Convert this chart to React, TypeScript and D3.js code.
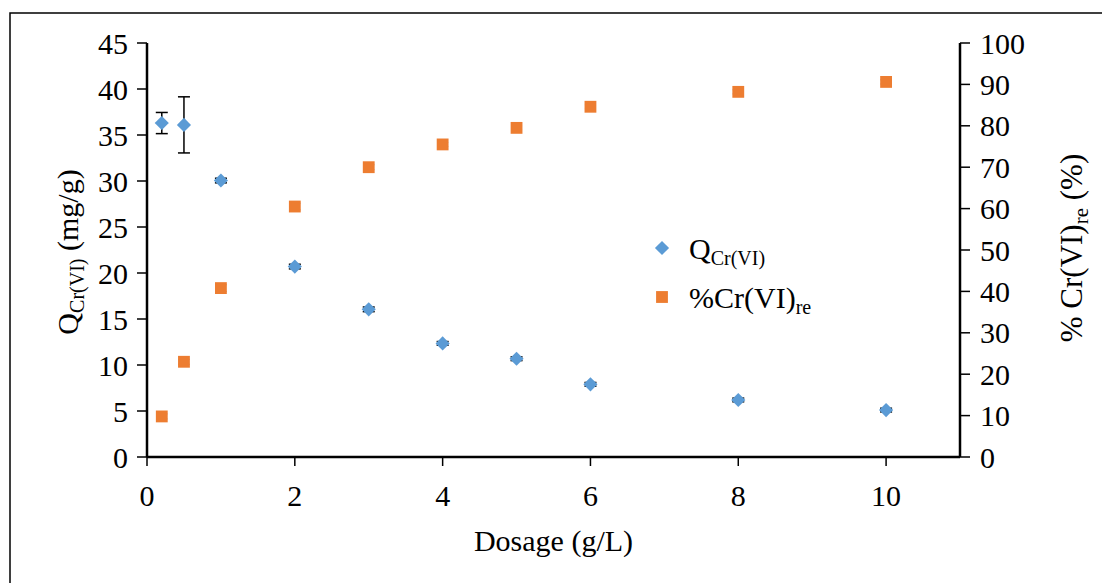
import { useMemo } from "react";
import * as d3 from "d3";

// dosage (g/L)
const dosage = [0.2, 0.5, 1, 2, 3, 4, 5, 6, 8, 10];
// adsorption capacity Q (mg/g)
const qValues = [36.3, 36.1, 30.05, 20.7, 16.05, 12.35, 10.68, 7.9, 6.2, 5.1];
const qErrors = [1.15, 3.05, 0.25, 0.25, 0.25, 0.2, 0.2, 0.2, 0.2, 0.2];
// removal (%)
const removal = [9.8, 23.0, 40.8, 60.5, 70.0, 75.5, 79.5, 84.6, 88.2, 90.6];
const removalErrors = [0.6, 0.6, 0.8, 0.8, 0.6, 0.5, 0.5, 0.5, 0.5, 0.5];

const xTicks = [0, 2, 4, 6, 8, 10];
const yLeftTicks = [0, 5, 10, 15, 20, 25, 30, 35, 40, 45];
const yRightTicks = [0, 10, 20, 30, 40, 50, 60, 70, 80, 90, 100];

const BLUE = "#5B9BD5";
const ORANGE = "#ED7D31";
const FONT = "'Liberation Serif', 'Times New Roman', serif";

export default function App() {
  const width = 1102;
  const height = 583;
  const m = { left: 147, right: 960, top: 43, bottom: 457 };

  const x = useMemo(() => d3.scaleLinear().domain([0, 11]).range([m.left, m.right]), []);
  const yL = useMemo(() => d3.scaleLinear().domain([0, 45]).range([m.bottom, m.top]), []);
  const yR = useMemo(() => d3.scaleLinear().domain([0, 100]).range([m.bottom, m.top]), []);

  const diamond = d3.symbol().type(d3.symbolSquare).size(100)();
  const square = d3.symbol().type(d3.symbolSquare).size(140)();

  return (
    <svg
      width={width}
      height={height}
      style={{ position: "absolute", left: 0, top: 0, background: "#fff" }}
      fontFamily={FONT}
    >
      <rect x={10} y={13} width={1200} height={700} fill="#fff" stroke="#000" strokeWidth={1.5} />

      {/* error bars */}
      {dosage.map((d, i) => (
        <g key={"eq" + i} stroke="#000" strokeWidth={1.5}>
          <line x1={x(d)} x2={x(d)} y1={yL(qValues[i] - qErrors[i])} y2={yL(qValues[i] + qErrors[i])} />
          <line x1={x(d) - 6} x2={x(d) + 6} y1={yL(qValues[i] - qErrors[i])} y2={yL(qValues[i] - qErrors[i])} />
          <line x1={x(d) - 6} x2={x(d) + 6} y1={yL(qValues[i] + qErrors[i])} y2={yL(qValues[i] + qErrors[i])} />
        </g>
      ))}
      {dosage.map((d, i) => (
        <g key={"er" + i} stroke="#555" strokeWidth={1}>
          <line x1={x(d) - 5.5} x2={x(d) + 5.5} y1={yR(removal[i] - removalErrors[i])} y2={yR(removal[i] - removalErrors[i])} />
          <line x1={x(d) - 5.5} x2={x(d) + 5.5} y1={yR(removal[i] + removalErrors[i])} y2={yR(removal[i] + removalErrors[i])} />
        </g>
      ))}

      {/* markers */}
      {dosage.map((d, i) => (
        <path key={"q" + i} d={diamond!} transform={`translate(${x(d)},${yL(qValues[i])}) rotate(45)`} fill={BLUE} />
      ))}
      {dosage.map((d, i) => (
        <path key={"r" + i} d={square!} transform={`translate(${x(d)},${yR(removal[i])})`} fill={ORANGE} />
      ))}

      {/* axes */}
      <g stroke="#000">
        <line x1={m.left} x2={m.right} y1={m.bottom} y2={m.bottom} strokeWidth={2.5} />
        <line x1={m.left} x2={m.left} y1={m.top} y2={m.bottom} strokeWidth={2.5} />
        <line x1={m.right} x2={m.right} y1={m.top} y2={m.bottom} strokeWidth={2.5} />
        {yLeftTicks.map((t) => (
          <line key={"lt" + t} x1={m.left - 10} x2={m.left} y1={yL(t)} y2={yL(t)} strokeWidth={1.5} />
        ))}
        {yRightTicks.map((t) => (
          <line key={"rt" + t} x1={m.right} x2={m.right + 10} y1={yR(t)} y2={yR(t)} strokeWidth={1.5} />
        ))}
        {xTicks.map((t) => (
          <line key={"xt" + t} x1={x(t)} x2={x(t)} y1={m.bottom} y2={m.bottom + 9} strokeWidth={1.5} />
        ))}
      </g>

      <g fontSize={30} fill="#000">
        {yLeftTicks.map((t) => (
          <text key={"ll" + t} x={m.left - 19} y={yL(t)} dy="0.35em" textAnchor="end">
            {t}
          </text>
        ))}
        {yRightTicks.map((t) => (
          <text key={"rl" + t} x={m.right + 20} y={yR(t)} dy="0.35em" textAnchor="start">
            {t}
          </text>
        ))}
        {xTicks.map((t) => (
          <text key={"xl" + t} x={x(t)} y={m.bottom + 49} textAnchor="middle">
            {t}
          </text>
        ))}
        <text x={(m.left + m.right) / 2} y={551} textAnchor="middle">
          Dosage (g/L)
        </text>
        <text transform={`translate(78,252) rotate(-90)`} textAnchor="middle">
          Q<tspan fontSize={20} dy={6}>Cr(VI)</tspan>
          <tspan dy={-6}> (mg/g)</tspan>
        </text>
        <text transform={`translate(1082,248) rotate(-90)`} textAnchor="middle" fontSize={31}>
          %  Cr(VI)<tspan fontSize={21} dy={6}>re</tspan>
          <tspan dy={-6}>  (%)</tspan>
        </text>
      </g>

      {/* legend */}
      <path d={diamond!} transform="translate(662,248) rotate(45)" fill={BLUE} />
      <path d={square!} transform="translate(662,297)" fill={ORANGE} />
      <g fontSize={30} fill="#000">
        <text x={689} y={259}>
          Q<tspan fontSize={20} dy={6}>Cr(VI)</tspan>
        </text>
        <text x={689} y={308}>
          %Cr(VI)<tspan fontSize={20} dy={6}>re</tspan>
        </text>
      </g>
    </svg>
  );
}
